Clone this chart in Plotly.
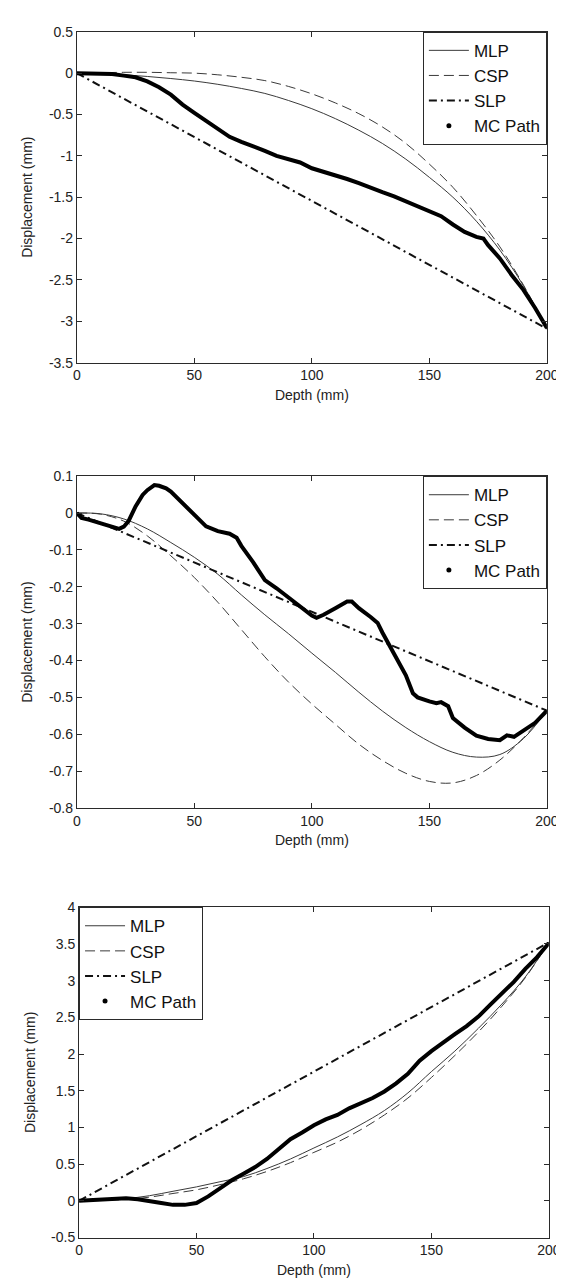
import plotly.graph_objects as go

# ---------------- data ----------------
depth_grid = [0, 10, 20, 30, 40, 50, 60, 70, 80, 90, 100, 110, 120, 130, 140, 150, 160, 170, 180, 190, 200]
slp_depth = [0, 200]

# Panel 1
p1_mlp = [0, -0.005, -0.02, -0.04, -0.065, -0.095, -0.135, -0.185, -0.245, -0.33, -0.43,
          -0.55, -0.69, -0.85, -1.04, -1.26, -1.50, -1.79, -2.14, -2.57, -3.09]
p1_csp = [0, 0.005, 0.01, 0.01, 0.005, 0.0, -0.02, -0.05, -0.09, -0.16, -0.25,
          -0.36, -0.49, -0.65, -0.85, -1.10, -1.38, -1.72, -2.10, -2.56, -3.09]
p1_slp = [0, -3.09]
p1_mc_depth = [0, 5, 10, 15, 20, 25, 30, 35, 40, 45, 50, 55, 60, 65, 70, 75, 80, 85, 90, 95, 100,
               105, 110, 115, 120, 125, 130, 135, 140, 145, 150, 155, 160, 165, 170, 173, 175, 180,
               185, 190, 195, 200]
p1_mc = [0, 0, 0, -0.01, -0.03, -0.05, -0.10, -0.17, -0.26, -0.38, -0.48, -0.58, -0.67, -0.77,
         -0.83, -0.88, -0.94, -1.0, -1.04, -1.08, -1.15, -1.19, -1.23, -1.28, -1.33, -1.39, -1.44,
         -1.49, -1.55, -1.61, -1.67, -1.73, -1.83, -1.92, -1.98, -2.00, -2.08, -2.24, -2.44, -2.62,
         -2.84, -3.08]

# Panel 2
p2_mlp = [0, -0.002, -0.016, -0.043, -0.08, -0.12, -0.166, -0.222, -0.276, -0.327, -0.38,
          -0.432, -0.486, -0.537, -0.582, -0.62, -0.649, -0.662, -0.655, -0.612, -0.536]
p2_csp = [0, -0.003, -0.022, -0.062, -0.116, -0.175, -0.242, -0.316, -0.39, -0.458, -0.518,
          -0.573, -0.627, -0.671, -0.706, -0.728, -0.732, -0.712, -0.67, -0.61, -0.536]
p2_slp = [0, -0.536]
p2_mc_depth = [0, 2, 5, 10, 15, 18, 20, 22, 25, 28, 30, 33, 35, 38, 40, 45, 50, 55, 60, 65, 68,
               70, 75, 80, 85, 90, 95, 100, 102, 105, 110, 115, 117, 120, 125, 128, 130, 135, 140,
               143, 145, 150, 153, 155, 158, 160, 165, 170, 175, 180, 183, 186, 190, 195, 200]
p2_mc = [0, -0.013, -0.018, -0.027, -0.038, -0.043, -0.037, -0.022, 0.018, 0.049, 0.062, 0.076,
         0.074, 0.067, 0.058, 0.027, -0.003, -0.036, -0.049, -0.056, -0.067, -0.089, -0.133,
         -0.182, -0.204, -0.228, -0.253, -0.278, -0.284, -0.276, -0.258, -0.24, -0.24, -0.258,
         -0.282, -0.298, -0.324, -0.382, -0.44, -0.489, -0.5, -0.511, -0.516, -0.513, -0.524,
         -0.556, -0.582, -0.604, -0.613, -0.616, -0.603, -0.607, -0.591, -0.569, -0.536]

# Panel 3
p3_mlp = [0, 0.01, 0.03, 0.07, 0.13, 0.19, 0.26, 0.33, 0.44, 0.57, 0.72,
          0.87, 1.04, 1.23, 1.47, 1.76, 2.04, 2.35, 2.68, 3.05, 3.52]
p3_csp = [0, 0.005, 0.02, 0.05, 0.10, 0.15, 0.22, 0.30, 0.40, 0.52, 0.66,
          0.80, 0.97, 1.17, 1.40, 1.68, 1.98, 2.30, 2.65, 3.04, 3.52]
p3_slp = [0, 3.52]
p3_mc_depth = [0, 5, 10, 15, 20, 25, 30, 35, 40, 45, 50, 55, 60, 65, 70, 75, 80, 85, 90, 95, 100,
               105, 110, 115, 120, 125, 130, 135, 140, 145, 150, 155, 160, 165, 170, 175, 180,
               185, 190, 195, 200]
p3_mc = [0, 0.01, 0.02, 0.035, 0.035, 0.02, 0.0, -0.03, -0.055, -0.055, -0.03, 0.06, 0.17,
         0.28, 0.37, 0.46, 0.57, 0.71, 0.84, 0.93, 1.03, 1.11, 1.17, 1.26, 1.33, 1.40, 1.49,
         1.60, 1.73, 1.91, 2.04, 2.16, 2.27, 2.38, 2.51, 2.67, 2.83, 2.98, 3.16, 3.32, 3.51]

# tick labels
x_tickvals = [0, 50, 100, 150, 200]
x_ticktext = ["0", "50", "100", "150", "200"]
p1_yticks = [0.5, 0, -0.5, -1, -1.5, -2, -2.5, -3, -3.5]
p1_ytext = ["0.5", "0", "-0.5", "-1", "-1.5", "-2", "-2.5", "-3", "-3.5"]
p2_yticks = [0.1, 0, -0.1, -0.2, -0.3, -0.4, -0.5, -0.6, -0.7, -0.8]
p2_ytext = ["0.1", "0", "-0.1", "-0.2", "-0.3", "-0.4", "-0.5", "-0.6", "-0.7", "-0.8"]
p3_yticks = [4, 3.5, 3, 2.5, 2, 1.5, 1, 0.5, 0, -0.5]
p3_ytext = ["4", "3.5", "3", "2.5", "2", "1.5", "1", "0.5", "0", "-0.5"]

# ---------------- figure ----------------
W, H = 564, 1279
FONT = "Arial, Liberation Sans, sans-serif"
LINEC = "#2a2a2a"

panels = [
    dict(mlp=p1_mlp, csp=p1_csp, slp=p1_slp, mcx=p1_mc_depth, mc=p1_mc,
         yr=[-3.5, 0.5], yt=p1_yticks, ytt=p1_ytext, px=(66.7, 550.5), py=(16, 351),
         leg=dict(x=550.5 / W, xanchor="right", y=1 - 16 / H)),
    dict(mlp=p2_mlp, csp=p2_csp, slp=p2_slp, mcx=p2_mc_depth, mc=p2_mc,
         yr=[-0.8, 0.1], yt=p2_yticks, ytt=p2_ytext, px=(66.7, 550.5), py=(466, 802),
         leg=dict(x=550.5 / W, xanchor="right", y=1 - 466 / H)),
    dict(mlp=p3_mlp, csp=p3_csp, slp=p3_slp, mcx=p3_mc_depth, mc=p3_mc,
         yr=[-0.5, 4], yt=p3_yticks, ytt=p3_ytext, px=(69, 552.5), py=(902.5, 1237),
         leg=dict(x=69 / W, xanchor="left", y=1 - 902.5 / H)),
]

fig = go.Figure()
layout = dict(width=W, height=H, margin=dict(l=0, r=0, t=0, b=0),
              paper_bgcolor="white", plot_bgcolor="white",
              font=dict(family=FONT, size=14, color="#222"), showlegend=True)

for i, p in enumerate(panels, start=1):
    sfx = "" if i == 1 else str(i)
    xa, ya = "x" + sfx, "y" + sfx
    lg = "legend" + sfx
    fig.add_trace(go.Scatter(x=depth_grid, y=p["mlp"], mode="lines", name="MLP",
                             line=dict(color="#3a3a3a", width=1, shape="spline"),
                             xaxis=xa, yaxis=ya, legend=lg))
    fig.add_trace(go.Scatter(x=depth_grid, y=p["csp"], mode="lines", name="CSP",
                             line=dict(color="#3a3a3a", width=1, dash="10px,5px", shape="spline"),
                             xaxis=xa, yaxis=ya, legend=lg))
    fig.add_trace(go.Scatter(x=slp_depth, y=p["slp"], mode="lines", name="SLP",
                             line=dict(color="#111", width=2, dash="8px,4px,2px,4px"),
                             xaxis=xa, yaxis=ya, legend=lg))
    fig.add_trace(go.Scatter(x=p["mcx"], y=p["mc"], mode="lines", name="MC Path",
                             line=dict(color="#000", width=4), showlegend=False,
                             xaxis=xa, yaxis=ya, legend=lg))
    fig.add_trace(go.Scatter(x=[None], y=[None], mode="markers", name="MC Path",
                             marker=dict(color="#000", size=5),
                             xaxis=xa, yaxis=ya, legend=lg))

    x0, x1 = p["px"]
    y0, y1 = p["py"]
    axis_common = dict(showline=True, linecolor=LINEC, linewidth=1, mirror="allticks",
                       ticks="inside", ticklen=5, tickcolor=LINEC, showgrid=False,
                       zeroline=False, automargin=True,
                       tickfont=dict(size=14, family=FONT, color="#222"))
    layout["xaxis" + sfx] = dict(domain=[x0 / W, x1 / W], range=[0, 200], anchor=ya,
                                 tickvals=x_tickvals, ticktext=x_ticktext,
                                 title=dict(text="Depth (mm)", font=dict(size=14), standoff=7),
                                 **axis_common)
    layout["yaxis" + sfx] = dict(domain=[1 - y1 / H, 1 - y0 / H], range=p["yr"], anchor=xa,
                                 tickvals=p["yt"], ticktext=p["ytt"],
                                 title=dict(text="Displacement (mm)", font=dict(size=14), standoff=12),
                                 **axis_common)
    layout[lg] = dict(x=p["leg"]["x"], xanchor=p["leg"]["xanchor"], y=p["leg"]["y"],
                      yanchor="top", bgcolor="white", bordercolor=LINEC, borderwidth=1,
                      font=dict(size=17, family=FONT, color="#111"), itemwidth=40,
                      tracegroupgap=0)

fig.update_layout(**layout)
fig.write_html("out.html")
